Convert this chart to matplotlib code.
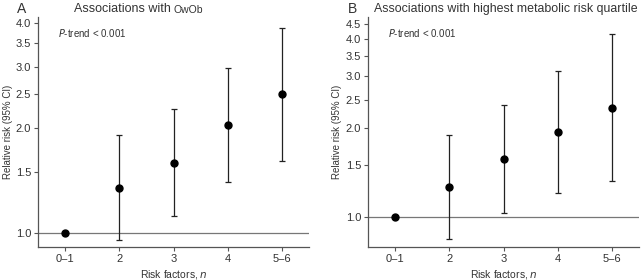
import matplotlib.pyplot as plt
import numpy as np
from matplotlib.ticker import FixedLocator, NullLocator

plt.rcParams['font.family'] = ['Liberation Sans', 'DejaVu Sans']

categories = ['0\u20131', '2', '3', '4', '5\u20136']

# Panel A: overweight/obesity
rr_a = [1.0, 1.35, 1.59, 2.04, 2.50]
lo_a = [1.0, 0.955, 1.12, 1.40, 1.61]
hi_a = [1.0, 1.91, 2.27, 2.98, 3.88]
ticks_a = [1.0, 1.5, 2.0, 2.5, 3.0, 3.5, 4.0]

# Panel B: highest metabolic risk quartile
rr_b = [1.0, 1.26, 1.575, 1.94, 2.35]
lo_b = [1.0, 0.84, 1.035, 1.205, 1.325]
hi_b = [1.0, 1.90, 2.40, 3.12, 4.16]
ticks_b = [1.0, 1.5, 2.0, 2.5, 3.0, 3.5, 4.0, 4.5]

txt = '#333333'
fig = plt.figure(figsize=(6.42, 2.8), dpi=100)
ax_a = fig.add_axes([38/642, 33/280, 271/642, 230/280])
ax_b = fig.add_axes([368/642, 33/280, 271/642, 230/280])


def draw(ax, rr, lo, hi, ticks, ylim, ylab_x):
    x = np.arange(len(categories))
    rr = np.array(rr); lo = np.array(lo); hi = np.array(hi)
    ax.axhline(1.0, color='#777777', lw=0.9, zorder=1)
    ax.errorbar(x[1:], rr[1:], yerr=[rr[1:] - lo[1:], hi[1:] - rr[1:]],
                fmt='none', ecolor='#222222', elinewidth=0.9, capsize=2.5,
                capthick=0.9, zorder=2)
    ax.plot(x, rr, 'o', color='black', ms=5, zorder=3)
    ax.set_yscale('log')
    ax.set_ylim(*ylim)
    ax.set_xlim(-0.5, 4.5)
    ax.yaxis.set_major_locator(FixedLocator(ticks))
    ax.yaxis.set_minor_locator(NullLocator())
    ax.set_yticklabels([f'{t:.1f}' for t in ticks])
    ax.set_xticks(x)
    ax.set_xticklabels(categories)
    for s in ['top', 'right']:
        ax.spines[s].set_visible(False)
    for s in ['left', 'bottom']:
        ax.spines[s].set_color('#555555')
        ax.spines[s].set_linewidth(0.9)
    ax.tick_params(axis='both', length=3, width=0.8, color='#555555',
                   labelsize=8, labelcolor=txt, pad=2)
    ax.set_xlabel('Risk factors, $\\it{n}$', fontsize=7.5, color=txt, labelpad=3)
    ax.set_ylabel('Relative risk (95% CI)', fontsize=7, color=txt)
    ax.yaxis.set_label_coords(ylab_x, 0.5)
    ax.text(0.075, 0.93, '$\\it{P}$-trend < 0.001', transform=ax.transAxes,
            fontsize=7, color=txt, va='center')


draw(ax_a, rr_a, lo_a, hi_a, ticks_a, (0.912, 4.16), -0.092)
draw(ax_b, rr_b, lo_b, hi_b, ticks_b, (0.792, 4.76), -0.096)

fig.text(17/642, 1 - 9/280, 'A', fontsize=10, color=txt, va='center')
fig.text(74/642, 1 - 9/280, 'Associations with', fontsize=9, color=txt, va='center')
fig.text(174/642, 1 - 10/280, 'OwOb', fontsize=7.5, color=txt, va='center')
fig.text(348/642, 1 - 9/280, 'B', fontsize=10, color=txt, va='center')
fig.text(374/642, 1 - 9/280, 'Associations with highest metabolic risk quartile',
         fontsize=8.9, color=txt, va='center')

plt.savefig('out.png', dpi=100)
